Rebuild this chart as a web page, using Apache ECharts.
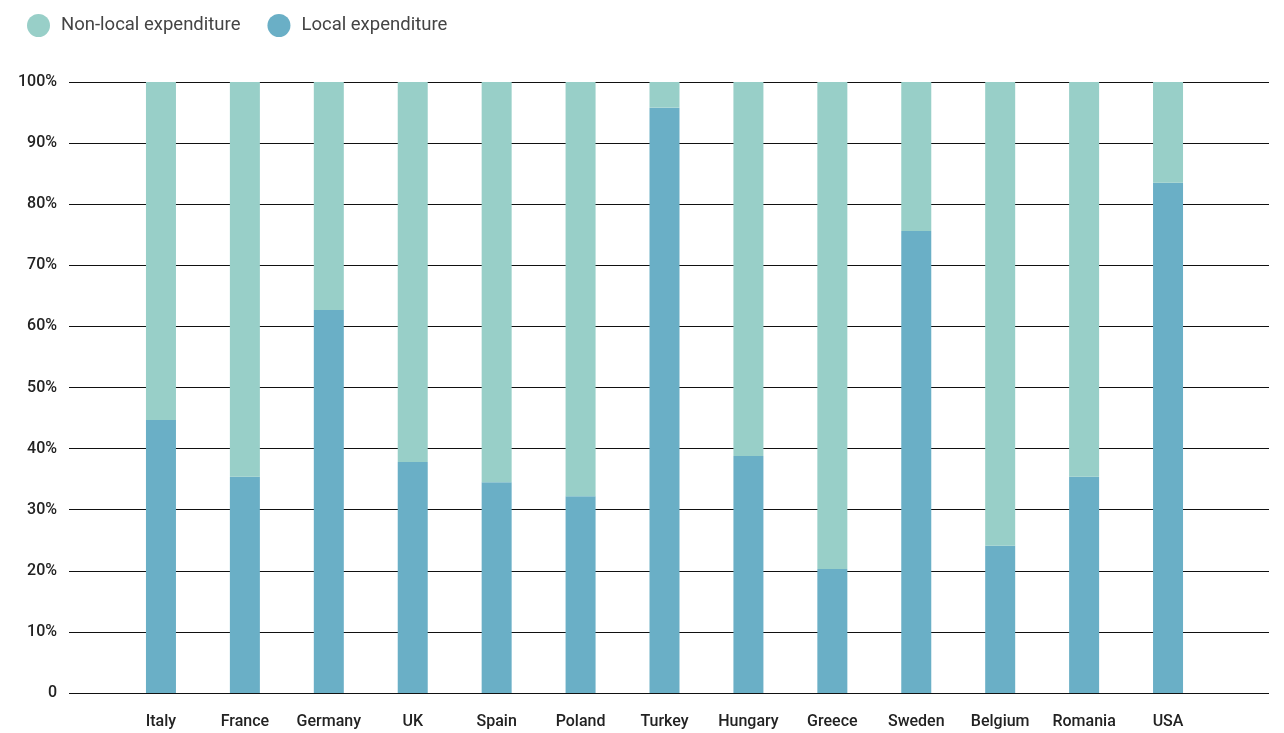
<!DOCTYPE html>
<html>
<head>
<meta charset="utf-8">
<script src="https://cdn.jsdelivr.net/npm/echarts@6/dist/echarts.min.js"></script>
<style>
  html, body { margin: 0; padding: 0; background: #fff; }
  #chart { width: 1284px; height: 733px; }
</style>
</head>
<body>
<div id="chart"></div>
<script>
// categories and values (percent)
var countries = ['Italy', 'France', 'Germany', 'UK', 'Spain', 'Poland', 'Turkey', 'Hungary', 'Greece', 'Sweden', 'Belgium', 'Romania', 'USA'];
var localExp = [44.7, 35.4, 62.7, 37.8, 34.5, 32.2, 95.8, 38.8, 20.3, 75.6, 24.1, 35.4, 83.5];
var nonLocalExp = [55.3, 64.6, 37.3, 62.2, 65.5, 67.8, 4.2, 61.2, 79.7, 24.4, 75.9, 64.6, 16.5];
var yTicks = [0, 10, 20, 30, 40, 50, 60, 70, 80, 90, 100];

var font = 'Roboto, sans-serif';
var chart = echarts.init(document.getElementById('chart'));

var option = {
    animation: false,
    legend: {
        left: 22, top: 9,
        icon: 'circle',
        itemWidth: 23, itemHeight: 23,
        itemGap: 27,
        textStyle: { fontFamily: font, fontSize: 18.5, color: '#444', padding: [0, 0, 0, 6] },
        data: ['Non-local expenditure', 'Local expenditure']
    },
    // grid 0 : wide one for the gridlines, grid 1 : the bars
    grid: [
        { left: 69, right: 15, top: 82, bottom: 40 },
        { left: 119, right: 74, top: 82, bottom: 40 }
    ],
    xAxis: [
        { gridIndex: 0, type: 'category', data: [''], show: false },
        {
            gridIndex: 1, type: 'category', data: countries,
            axisLine: { show: false }, axisTick: { show: false },
            axisLabel: { fontFamily: font, fontSize: 16, fontWeight: 500, color: '#222', margin: 21 }
        }
    ],
    yAxis: [
        {
            gridIndex: 0, type: 'value', min: 0, max: 100, interval: 10,
            axisLine: { show: false }, axisTick: { show: false },
            splitLine: { lineStyle: { color: '#111', width: 1 } },
            axisLabel: {
                fontFamily: font, fontSize: 16, fontWeight: 500, color: '#222', margin: 12,
                formatter: function (v) { return yTicks.indexOf(v) === 0 ? '0' : v + '%'; }
            }
        },
        { gridIndex: 1, type: 'value', min: 0, max: 100, show: false }
    ],
    series: [
        {
            name: 'Local expenditure', type: 'bar', stack: 'a',
            xAxisIndex: 1, yAxisIndex: 1, barWidth: 30, z: 5,
            itemStyle: { color: '#6aafc6' },
            data: localExp
        },
        {
            name: 'Non-local expenditure', type: 'bar', stack: 'a',
            xAxisIndex: 1, yAxisIndex: 1, barWidth: 30, z: 5,
            itemStyle: { color: '#98cfc8' },
            data: nonLocalExp
        }
    ]
};
chart.setOption(option);
</script>
</body>
</html>
